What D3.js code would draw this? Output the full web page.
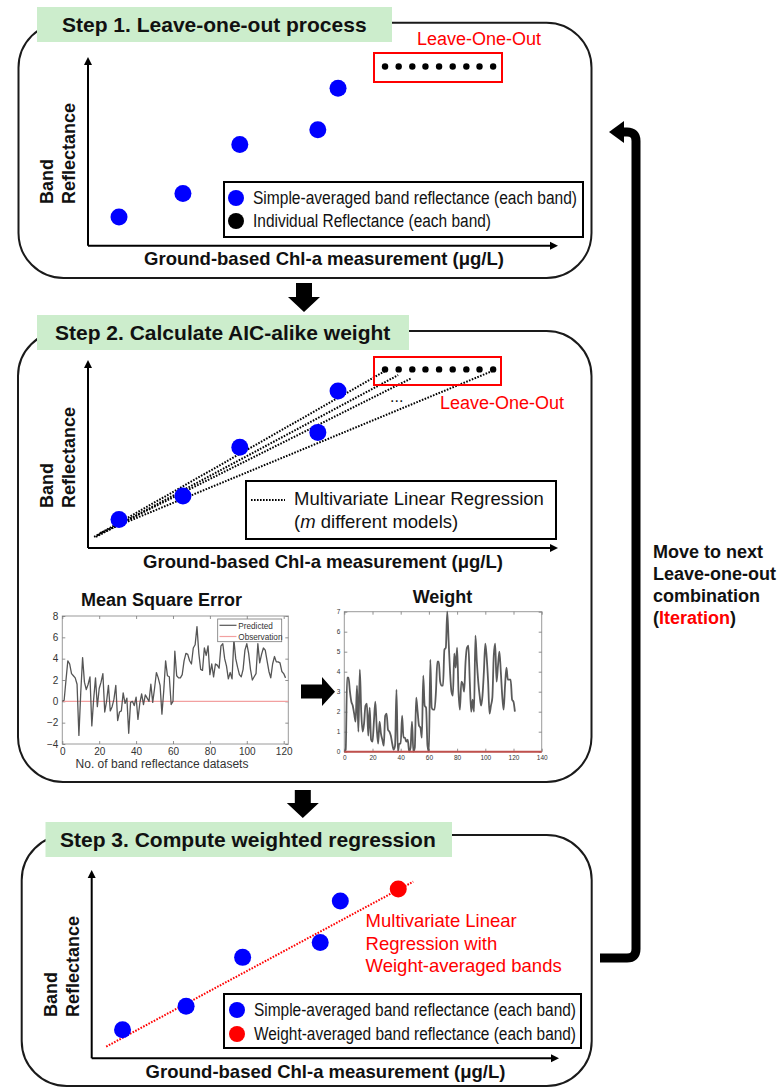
<!DOCTYPE html>
<html>
<head>
<meta charset="utf-8">
<script src="https://cdn.jsdelivr.net/npm/d3@7"></script>
<style>
  html, body { margin: 0; padding: 0; background: #fff; }
  svg { display: block; font-family: "Liberation Sans", Arial, Helvetica, sans-serif; }
</style>
</head>
<body>
<svg id="fig" width="781" height="1088"></svg>
<script>
// ---------- schematic values (conceptual units, 0–100 on each axis) ----------
const bandX = [6.6, 20.2, 32.3, 48.9, 53.2];          // simple-averaged band reflectance
const bandY = [15.2, 27.7, 53.6, 61.5, 83.5];
const looX = [63.2, 66.1, 69.0, 71.8, 74.7, 77.6, 80.5, 83.3, 86.2]; // individual reflectances
const looY = [95, 95, 95, 95, 95, 95, 95, 95, 95];
const mlrX0 = [1.3, 1.7, 2.1, 2.6];                    // m leave-one-out regression fits
const mlrY0 = [5.9, 5.9, 6.9, 8.0];
const mlrX1 = [63.2, 66.0, 68.9, 86.0];
const mlrY1 = [94.1, 92.0, 90.4, 94.1];
const weightedX = [65.6];                              // weight-averaged band reflectance
const weightedY = [89.9];
const wlsX = [3.1, 68.8];                              // weighted regression line
const wlsY = [6.2, 93.8];

// ---------- mean square error per dataset ----------
const mseValues = [
  0.0, 0.1, 2.0, 3.8, 3.5, 2.6, 2.4, 2.2, 1.6, -3.2,
  0.8, 4.1, 1.8, 1.1, 1.6, 2.3, -2.3, 0.2, 2.2, -0.5,
  1.2, 1.8, 2.6, -1.0, 0.0, 1.5, -0.9, -0.5, 0.2, 1.5,
  -1.8, -1.0, -0.9, 0.8, -0.2, 0.3, -3.0, -0.1, 0.0, -0.4,
  0.4, -1.7, -0.2, 0.7, -0.3, 0.6, 0.3, 0.0, 1.6, -0.1,
  1.2, 2.7, 2.2, 1.5, -1.2, 1.0, 3.8, 2.4, 2.3, -0.3,
  0.0, 4.7, 2.4, 2.2, 2.2, 2.5, 3.8, 4.5, 4.4, 3.8,
  3.5, 5.0, 5.3, 7.0, 4.5, 3.0, 2.9, 5.0, 4.3, 5.2,
  2.5, 3.5, 2.3, 3.5, 3.4, 3.1, 5.2, 5.4, 4.0, 3.3,
  2.1, 2.7, 2.1, 5.8, 4.0, 3.2, 2.5, 2.3, 3.0, 4.8,
  5.4, 4.5, 3.0, 2.0, 2.3, 2.6, 5.4, 3.6, 4.4, 5.0,
  4.8, 3.8, 2.8, 2.2, 3.5, 4.2, 3.7, 3.7, 3.6, 2.8,
  2.6, 2.2
];
const mseObservation = [0, 0];
const mseXTicks = [0, 20, 40, 60, 80, 100, 120];
const mseYTicks = [-4, -2, 0, 2, 4, 6, 8];

// ---------- AIC-alike weight per dataset ----------
const weightValues = [
  0.0, 0.1, 3.7, 3.7, 3.0, 2.5, 2.3, 1.9, 1.5, 3.3,
  1.0, 4.1, 2.0, 1.0, 1.4, 2.3, 2.4, 0.8, 2.2, 0.6,
  0.5, 1.5, 2.5, 1.2, 0.4, 1.5, 0.9, 0.6, 0.3, 1.8,
  1.9, 1.1, 1.0, 0.8, 0.4, 0.1, 0.3, 3.1, 0.0, 0.4,
  0.4, 1.8, 0.7, 0.7, 0.5, 0.6, 0.0, 0.2, 1.5, 0.0,
  0.2, 2.7, 2.0, 1.3, 1.2, 0.7, 3.8, 2.3, 2.2, 0.3,
  0.0, 4.6, 2.2, 2.1, 2.1, 3.0, 4.5, 4.5, 3.5, 3.3,
  3.3, 5.1, 5.2, 7.0, 5.5, 4.0, 3.0, 2.8, 4.9, 4.2,
  5.2, 3.0, 2.1, 3.5, 3.4, 3.0, 4.5, 5.2, 5.3, 3.5,
  2.0, 2.6, 2.0, 5.8, 4.5, 3.5, 2.8, 2.3, 2.8, 4.0,
  5.4, 4.7, 3.5, 1.9, 2.3, 2.7, 4.8, 5.4, 3.5, 4.3,
  5.0, 4.0, 2.8, 2.1, 3.3, 4.2, 3.6, 3.6, 3.6, 2.6,
  2.5, 2.0
];
const weightObservation = [0, 0];
const weightXTicks = [0, 20, 40, 60, 80, 100, 120, 140];
const weightYTicks = [0, 1, 2, 3, 4, 5, 6, 7];

const stepTitles = ["Step 1. Leave-one-out process", "Step 2. Calculate AIC-alike weight", "Step 3. Compute weighted regression"];
const iterationLines = ["Move to next", "Leave-one-out", "combination"];

// ---------- drawing ----------
const svg = d3.select("#fig");
svg.append("rect").attr("width", 781).attr("height", 1088).attr("fill", "#fff");

const BLUE = "#0000ff", RED = "#ff0000", GREEN = "#ccedcc";

function stepFrame(box, green, title, tx, ty) {
  svg.append("rect")
    .attr("x", box[0]).attr("y", box[1])
    .attr("width", box[2] - box[0]).attr("height", box[3] - box[1])
    .attr("rx", 45).attr("ry", 45)
    .attr("fill", "none").attr("stroke", "#1a1a1a").attr("stroke-width", 2);
  svg.append("rect")
    .attr("x", green[0]).attr("y", green[1])
    .attr("width", green[2] - green[0]).attr("height", green[3] - green[1])
    .attr("fill", GREEN);
  svg.append("text").attr("x", tx).attr("y", ty)
    .attr("font-size", 21).attr("font-weight", "bold").attr("fill", "#111")
    .text(title);
}

function schematicAxes(x, y, bandLabelX, reflLabelX, labelY, xLabelCx, xLabelY) {
  const [x0, x1] = x.range();
  const [y0, y1] = y.range();
  svg.append("line").attr("x1", x0).attr("y1", y0).attr("x2", x0).attr("y2", y1 + 6)
    .attr("stroke", "#000").attr("stroke-width", 2);
  svg.append("line").attr("x1", x0).attr("y1", y0).attr("x2", x1 - 6).attr("y2", y0)
    .attr("stroke", "#000").attr("stroke-width", 2);
  svg.append("path").attr("d", `M${x0 - 4},${y1 + 8}L${x0},${y1}L${x0 + 4},${y1 + 8}Z`).attr("fill", "#000");
  svg.append("path").attr("d", `M${x1 - 8},${y0 - 4}L${x1},${y0}L${x1 - 8},${y0 + 4}Z`).attr("fill", "#000");
  [["Band", bandLabelX], ["Reflectance", reflLabelX]].forEach(([t, lx]) => {
    svg.append("text").attr("transform", `translate(${lx},${labelY}) rotate(-90)`)
      .attr("font-size", 18).attr("font-weight", "bold").attr("fill", "#111").text(t);
  });
  svg.append("text").attr("x", xLabelCx).attr("y", xLabelY).attr("text-anchor", "middle")
    .attr("font-size", 18.5).attr("font-weight", "bold").attr("fill", "#111")
    .text("Ground-based Chl-a measurement (μg/L)");
}

function dots(x, y, xs, ys, r, color) {
  svg.append("g").selectAll("circle").data(xs).join("circle")
    .attr("cx", d => x(d)).attr("cy", (d, i) => y(ys[i]))
    .attr("r", r).attr("fill", color);
}

function legendBox(b) {
  svg.append("rect").attr("x", b[0]).attr("y", b[1]).attr("width", b[2] - b[0]).attr("height", b[3] - b[1])
    .attr("fill", "#fff").attr("stroke", "#000").attr("stroke-width", 2);
}

function narrowText(x, y, len, t, color) {
  svg.append("text").attr("x", x).attr("y", y).attr("font-size", 18)
    .attr("textLength", len).attr("lengthAdjust", "spacingAndGlyphs")
    .attr("fill", color || "#111").text(t);
}

function downArrow(cx, top, shaftEnd, tip) {
  svg.append("path")
    .attr("d", `M${cx - 8},${top}H${cx + 8}V${shaftEnd}H${cx + 16}L${cx},${tip}L${cx - 16},${shaftEnd}H${cx - 8}Z`)
    .attr("fill", "#000");
}

// ===== Step 1 =====
stepFrame([18.5, 22.7, 591.5, 278], [37, 7, 392, 42], stepTitles[0], 62, 32);
const x1s = d3.scaleLinear().domain([0, 100]).range([88, 558]);
const y1s = d3.scaleLinear().domain([0, 100]).range([245.7, 57]);
schematicAxes(x1s, y1s, 53, 75, 204, 324, 265);
dots(x1s, y1s, bandX, bandY, 8.5, BLUE);
svg.append("rect").attr("x", 374).attr("y", 53).attr("width", 128).attr("height", 29)
  .attr("fill", "none").attr("stroke", RED).attr("stroke-width", 2);
dots(x1s, y1s, looX, looY, 3.2, "#000");
svg.append("text").attr("x", 417).attr("y", 45).attr("font-size", 18).attr("fill", RED).text("Leave-One-Out");
legendBox([224, 182, 583, 237]);
svg.append("circle").attr("cx", 236).attr("cy", 198).attr("r", 8).attr("fill", BLUE);
svg.append("circle").attr("cx", 236).attr("cy", 221).attr("r", 8).attr("fill", "#000");
narrowText(253, 204, 324, "Simple-averaged band reflectance (each band)");
narrowText(253, 227, 238, "Individual Reflectance (each band)");

downArrow(304, 283, 297, 312);

// ===== Step 2 =====
stepFrame([18, 331, 591.5, 782], [37, 315, 409, 350], stepTitles[1], 55, 340);
const x2s = d3.scaleLinear().domain([0, 100]).range([88, 558]);
const y2s = d3.scaleLinear().domain([0, 100]).range([548, 360]);
schematicAxes(x2s, y2s, 53, 75, 508, 323, 568);
svg.append("g").selectAll("line").data(mlrX0).join("line")
  .attr("x1", d => x2s(d)).attr("y1", (d, i) => y2s(mlrY0[i]))
  .attr("x2", (d, i) => x2s(mlrX1[i])).attr("y2", (d, i) => y2s(mlrY1[i]))
  .attr("stroke", "#000").attr("stroke-width", 2).attr("stroke-dasharray", "1.6 1.4");
dots(x2s, y2s, bandX, bandY, 8.5, BLUE);
svg.append("rect").attr("x", 374).attr("y", 357).attr("width", 127).attr("height", 28)
  .attr("fill", "none").attr("stroke", RED).attr("stroke-width", 2);
dots(x2s, y2s, looX, looY, 3.2, "#000");
svg.append("text").attr("x", 390).attr("y", 402).attr("font-size", 16).attr("fill", "#111").text("...");
svg.append("text").attr("x", 440).attr("y", 409).attr("font-size", 18).attr("fill", RED).text("Leave-One-Out");
legendBox([246, 481, 556, 539]);
svg.append("line").attr("x1", 251).attr("y1", 500).attr("x2", 285).attr("y2", 500)
  .attr("stroke", "#000").attr("stroke-width", 2).attr("stroke-dasharray", "1.6 1.4");
svg.append("text").attr("x", 294).attr("y", 505).attr("font-size", 18.5).attr("fill", "#111")
  .text("Multivariate Linear Regression");
const mt = svg.append("text").attr("x", 294).attr("y", 528).attr("font-size", 18.5).attr("fill", "#111");
mt.append("tspan").text("(");
mt.append("tspan").attr("font-style", "italic").text("m");
mt.append("tspan").text(" different models)");

// --- Mean square error plot ---
const mseX = d3.scaleLinear().domain([0, 122.5]).range([62.3, 288.3]);
const mseY = d3.scaleLinear().domain([-4, 8]).range([744, 616]);
function matlabFrame(x, y, xt, yt, fs) {
  const [l, r] = x.range(), [b, t] = y.range();
  const g = svg.append("g");
  g.append("rect").attr("x", l).attr("y", t).attr("width", r - l).attr("height", b - t)
    .attr("fill", "#fff").attr("stroke", "#9a9a9a").attr("stroke-width", 1);
  const fmt = d3.format("d");
  const ax = [
    [d3.axisBottom(x).tickValues(xt).tickSize(-3).tickPadding(4).tickFormat(fmt), `translate(0,${b})`],
    [d3.axisTop(x).tickValues(xt).tickSize(-3).tickFormat(""), `translate(0,${t})`],
    [d3.axisLeft(y).tickValues(yt).tickSize(-3).tickPadding(4).tickFormat(fmt), `translate(${l},0)`],
    [d3.axisRight(y).tickValues(yt).tickSize(-3).tickFormat(""), `translate(${r},0)`]
  ];
  ax.forEach(([a, tr]) => {
    const gg = g.append("g").attr("transform", tr).call(a);
    gg.select(".domain").remove();
    gg.selectAll(".tick line").attr("stroke", "#777").attr("stroke-width", 0.8);
    gg.selectAll(".tick text").attr("font-size", fs).attr("fill", "#333")
      .attr("font-family", "\"Liberation Sans\", Arial, sans-serif");
  });
  return g;
}
matlabFrame(mseX, mseY, mseXTicks, mseYTicks, 10);
svg.append("line").attr("x1", mseX(0)).attr("x2", mseX.range()[1])
  .attr("y1", mseY(mseObservation[0])).attr("y2", mseY(mseObservation[1]))
  .attr("stroke", "#f2a0a0").attr("stroke-width", 1.3);
svg.append("path").datum(mseValues)
  .attr("d", d3.line().x((d, i) => mseX(i)).y(d => mseY(d)))
  .attr("fill", "none").attr("stroke", "#555").attr("stroke-width", 1.3).attr("stroke-linejoin", "round");
svg.append("rect").attr("x", 217.7).attr("y", 619).attr("width", 64).attr("height", 22.7)
  .attr("fill", "#fff").attr("stroke", "#777").attr("stroke-width", 0.8);
svg.append("line").attr("x1", 219.5).attr("x2", 236.5).attr("y1", 625.3).attr("y2", 625.3).attr("stroke", "#555").attr("stroke-width", 1.2);
svg.append("line").attr("x1", 219.5).attr("x2", 236.5).attr("y1", 636.5).attr("y2", 636.5).attr("stroke", "#f2a0a0").attr("stroke-width", 1.2);
svg.append("text").attr("x", 238.3).attr("y", 628.5).attr("font-size", 8.2).attr("fill", "#333").text("Predicted");
svg.append("text").attr("x", 238.3).attr("y", 639.8).attr("font-size", 8.2).attr("fill", "#333").text("Observation");
svg.append("text").attr("x", 161.5).attr("y", 606).attr("text-anchor", "middle")
  .attr("font-size", 18).attr("font-weight", "bold").attr("fill", "#111").text("Mean Square Error");
svg.append("text").attr("x", 162).attr("y", 768).attr("text-anchor", "middle")
  .attr("font-size", 12).attr("fill", "#333").text("No. of band reflectance datasets");

// arrow from error to weight
svg.append("path").attr("d", "M301,684.5H322V677L335,691.7L322,706V698.5H301Z").attr("fill", "#000");

// --- Weight plot ---
const wX = d3.scaleLinear().domain([0, 140]).range([344.3, 541.7]);
const wY = d3.scaleLinear().domain([0, 7]).range([751.7, 611.7]);
matlabFrame(wX, wY, weightXTicks, weightYTicks, 6.5);
svg.append("path").datum(weightValues)
  .attr("d", d3.line().x((d, i) => wX(i)).y(d => wY(d)).curve(d3.curveMonotoneX))
  .attr("fill", "none").attr("stroke", "#5a5a5a").attr("stroke-width", 1.8).attr("stroke-linejoin", "round");
svg.append("line").attr("x1", wX(0)).attr("x2", wX.range()[1])
  .attr("y1", wY(weightObservation[0])).attr("y2", wY(weightObservation[1]))
  .attr("stroke", "#c0504d").attr("stroke-width", 2);
svg.append("text").attr("x", 442.5).attr("y", 603.3).attr("text-anchor", "middle")
  .attr("font-size", 18).attr("font-weight", "bold").attr("fill", "#111").text("Weight");

downArrow(302.8, 790, 803, 818);

// ===== Step 3 =====
stepFrame([21.7, 835, 591.7, 1086], [45.5, 822, 452, 857], stepTitles[2], 60, 847);
const x3s = d3.scaleLinear().domain([0, 100]).range([91.7, 559]);
const y3s = d3.scaleLinear().domain([0, 100]).range([1058.3, 870]);
schematicAxes(x3s, y3s, 57.3, 79, 1017, 325.5, 1078);
svg.append("line")
  .attr("x1", x3s(wlsX[0])).attr("y1", y3s(wlsY[0]))
  .attr("x2", x3s(wlsX[1])).attr("y2", y3s(wlsY[1]))
  .attr("stroke", RED).attr("stroke-width", 2).attr("stroke-dasharray", "1.6 1.4");
dots(x3s, y3s, bandX, bandY, 8.5, BLUE);
dots(x3s, y3s, weightedX, weightedY, 8.5, RED);
["Multivariate Linear", "Regression with", "Weight-averaged bands"].forEach((t, i) => {
  svg.append("text").attr("x", 365.6).attr("y", 927 + i * 22.5).attr("font-size", 18.5).attr("fill", RED).text(t);
});
legendBox([224, 994, 581, 1048]);
svg.append("circle").attr("cx", 237).attr("cy", 1010).attr("r", 8).attr("fill", BLUE);
svg.append("circle").attr("cx", 237).attr("cy", 1034).attr("r", 8).attr("fill", RED);
narrowText(254, 1016, 322, "Simple-averaged band reflectance (each band)");
narrowText(254, 1040, 322, "Weight-averaged band reflectance (each band)");

// ===== iteration bracket =====
svg.append("path").attr("d", "M600,958H627Q636,958 636,949V141Q636,132 627,132H620")
  .attr("fill", "none").attr("stroke", "#000").attr("stroke-width", 9);
svg.append("path").attr("d", "M609,132L624,121V143Z").attr("fill", "#000");
iterationLines.forEach((t, i) => {
  svg.append("text").attr("x", 653).attr("y", 558 + i * 22).attr("font-size", 18)
    .attr("font-weight", "bold").attr("fill", "#111").text(t);
});
const it = svg.append("text").attr("x", 653).attr("y", 624).attr("font-size", 18).attr("font-weight", "bold").attr("fill", "#111");
it.append("tspan").text("(");
it.append("tspan").attr("fill", RED).text("Iteration");
it.append("tspan").text(")");
</script>
</body>
</html>
